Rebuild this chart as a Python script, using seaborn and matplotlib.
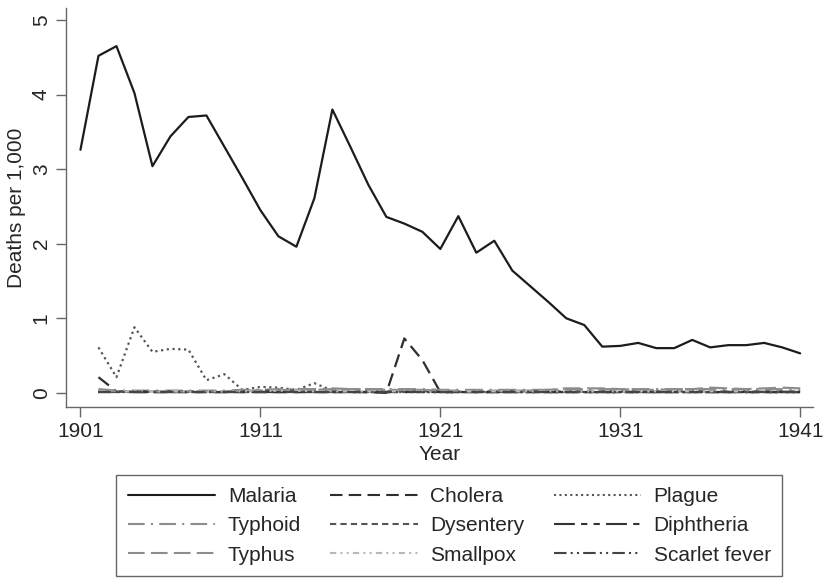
import pandas as pd
import numpy as np
import matplotlib
matplotlib.use("Agg")
import matplotlib.pyplot as plt
import seaborn as sns

sns.set_style("ticks")
plt.rcParams["font.family"] = ["Liberation Sans", "DejaVu Sans"]

years = list(range(1901, 1942))

# malaria, 1901-1941
malaria = [3.26, 4.52, 4.65, 4.02, 3.04, 3.44, 3.70, 3.72, 3.30, 2.88,
           2.45, 2.10, 1.96, 2.61, 3.80, 3.30, 2.79, 2.36, 2.27, 2.16,
           1.93, 2.37, 1.88, 2.04, 1.64, 1.43, 1.22, 1.00, 0.91, 0.62,
           0.63, 0.67, 0.60, 0.60, 0.71, 0.61, 0.64, 0.64, 0.67, 0.61,
           0.53]

# the rest start in 1902
cholera = [0.21, 0.02, 0.01, 0.01, 0.01, 0.01, 0.01, 0.01, 0.01, 0.01,
           0.01, 0.01, 0.01, 0.01, 0.01, 0.01, 0.00, 0.73, 0.44, 0.01,
           0.01, 0.01, 0.01, 0.01, 0.01, 0.01, 0.01, 0.01, 0.01, 0.01,
           0.01, 0.01, 0.01, 0.01, 0.01, 0.01, 0.01, 0.01, 0.01, 0.01]
plague = [0.61, 0.21, 0.88, 0.55, 0.59, 0.58, 0.17, 0.25, 0.04, 0.08,
          0.07, 0.04, 0.13, 0.03, 0.01, 0.01, 0.01, 0.01, 0.01, 0.01,
          0.01, 0.01, 0.01, 0.01, 0.01, 0.01, 0.01, 0.01, 0.01, 0.01,
          0.01, 0.01, 0.01, 0.01, 0.01, 0.01, 0.01, 0.01, 0.01, 0.01]
typhoid = [0.05, 0.03, 0.03, 0.03, 0.03, 0.03, 0.03, 0.03, 0.04, 0.04,
           0.05, 0.05, 0.05, 0.06, 0.05, 0.05, 0.05, 0.05, 0.05, 0.04,
           0.04, 0.04, 0.04, 0.04, 0.04, 0.04, 0.05, 0.05, 0.05, 0.05,
           0.05, 0.05, 0.05, 0.05, 0.05, 0.05, 0.05, 0.05, 0.05, 0.05]
dysentery = [0.02, 0.02, 0.02, 0.02, 0.02, 0.02, 0.02, 0.02, 0.02, 0.03,
             0.03, 0.03, 0.02, 0.02, 0.02, 0.02, 0.02, 0.02, 0.02, 0.02,
             0.02, 0.02, 0.02, 0.02, 0.02, 0.02, 0.02, 0.02, 0.02, 0.02,
             0.02, 0.02, 0.02, 0.02, 0.02, 0.02, 0.02, 0.02, 0.02, 0.02]
diphtheria = [0.01, 0.01, 0.01, 0.01, 0.01, 0.01, 0.01, 0.01, 0.01, 0.01,
              0.01, 0.01, 0.01, 0.01, 0.01, 0.01, 0.01, 0.01, 0.01, 0.01,
              0.01, 0.01, 0.01, 0.01, 0.01, 0.01, 0.01, 0.01, 0.01, 0.01,
              0.01, 0.01, 0.01, 0.01, 0.01, 0.01, 0.01, 0.01, 0.01, 0.01]
typhus = [0.03, 0.02, 0.02, 0.02, 0.02, 0.02, 0.02, 0.02, 0.03, 0.03,
          0.04, 0.04, 0.04, 0.05, 0.05, 0.05, 0.04, 0.04, 0.04, 0.03,
          0.03, 0.03, 0.03, 0.03, 0.03, 0.04, 0.06, 0.06, 0.06, 0.05,
          0.04, 0.04, 0.05, 0.05, 0.07, 0.06, 0.05, 0.06, 0.07, 0.06]
smallpox = [0.02, 0.02, 0.02, 0.02, 0.02, 0.02, 0.02, 0.02, 0.02, 0.02,
            0.03, 0.03, 0.02, 0.02, 0.02, 0.02, 0.02, 0.02, 0.02, 0.02,
            0.02, 0.02, 0.02, 0.02, 0.02, 0.02, 0.02, 0.02, 0.02, 0.02,
            0.02, 0.02, 0.02, 0.02, 0.02, 0.02, 0.02, 0.02, 0.02, 0.02]
scarlet = [0.005, 0.005, 0.005, 0.005, 0.005, 0.005, 0.005, 0.005, 0.005, 0.005,
           0.005, 0.005, 0.005, 0.005, 0.005, 0.005, 0.005, 0.005, 0.005, 0.005,
           0.005, 0.005, 0.005, 0.005, 0.005, 0.005, 0.005, 0.005, 0.005, 0.005,
           0.005, 0.005, 0.005, 0.005, 0.005, 0.005, 0.005, 0.005, 0.005, 0.005]

series = {"Malaria": malaria, "Cholera": cholera, "Plague": plague,
          "Typhoid": typhoid, "Dysentery": dysentery, "Diphtheria": diphtheria,
          "Typhus": typhus, "Smallpox": smallpox, "Scarlet fever": scarlet}

# colour, dash pattern (stata-ish greyscale)
styles = {
    "Malaria": ("#1c1c1c", ""),
    "Cholera": ("#2e2e2e", (6, 3)),
    "Plague": ("#555555", (1, 1.6)),
    "Typhoid": ("#8c8c8c", (8, 3, 1, 3)),
    "Dysentery": ("#555555", (3, 2)),
    "Diphtheria": ("#333333", (10, 3, 3, 3, 3, 3)),
    "Typhus": ("#8c8c8c", (8, 3)),
    "Smallpox": ("#b8b8b8", (3, 2, 1, 2, 1, 2)),
    "Scarlet fever": ("#444444", (6, 2, 1, 2, 1, 2)),
}

rows = []
for name, vals in series.items():
    yrs = years if len(vals) == len(years) else years[1:]
    for y, v in zip(yrs, vals):
        rows.append({"Year": y, "Disease": name, "Deaths": v})
df = pd.DataFrame(rows)

fig = plt.figure(figsize=(8.26, 5.79), dpi=100)
ax = fig.add_axes([0.080, 0.297, 0.904, 0.689])

sns.lineplot(data=df, x="Year", y="Deaths", hue="Disease", style="Disease",
             palette={k: v[0] for k, v in styles.items()},
             dashes={k: v[1] for k, v in styles.items()},
             linewidth=1.6, legend=False, ax=ax)

ax.set_xlim(1900.2, 1941.7)
ax.set_ylim(-0.19, 5.16)
ax.set_xticks([1901, 1911, 1921, 1931, 1941])
ax.set_yticks([0, 1, 2, 3, 4, 5])
ax.tick_params(labelsize=15, length=7, color="#666666", width=1, pad=4)
plt.setp(ax.get_yticklabels(), rotation=90, va="center")
ax.set_xlabel("Year", fontsize=15, labelpad=3)
ax.set_ylabel("Deaths per 1,000", fontsize=15, labelpad=4)
for s in ["top", "right"]:
    ax.spines[s].set_visible(False)
for s in ["left", "bottom"]:
    ax.spines[s].set_color("#666666")
    ax.spines[s].set_linewidth(1)

# legend, filled row-wise like the original
order = ["Malaria", "Typhoid", "Typhus", "Cholera", "Dysentery", "Smallpox",
         "Plague", "Diphtheria", "Scarlet fever"]
handles = []
for name in order:
    c, d = styles[name]
    h = plt.Line2D([], [], color=c, linewidth=1.5)
    if d != "":
        h.set_dashes(d)
    handles.append(h)
leg = fig.legend(handles, order, ncol=3, loc="upper center",
                 bbox_to_anchor=(0.544, 0.197), fontsize=15,
                 handlelength=4.2, handletextpad=0.6, columnspacing=1.4,
                 labelspacing=0.5, fancybox=False, edgecolor="#666666",
                 framealpha=1, borderpad=0.55)
leg.get_frame().set_linewidth(1)

fig.savefig("out.png", dpi=100)
